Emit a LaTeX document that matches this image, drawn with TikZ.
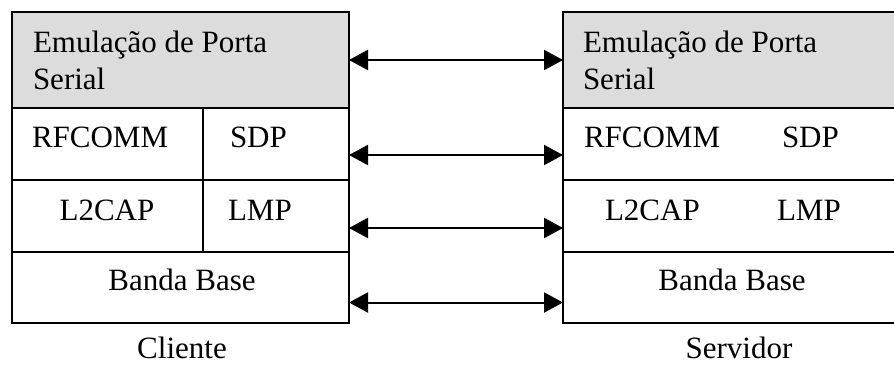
\documentclass[tikz,border=0pt]{standalone}
\usepackage{fontspec}
\setmainfont{Liberation Serif}
\usetikzlibrary{arrows.meta}
\definecolor{hdrgrey}{HTML}{DCDCDC}
\tikzset{
  cell/.style={draw=black, line width=2pt, rectangle, inner sep=0pt, outer sep=0pt, anchor=north west, fill=white},
  hdr/.style={cell, fill=hdrgrey},
  lbl/.style={inner sep=0pt, outer sep=0pt, font=\fontsize{31}{36}\selectfont},
  link/.style={line width=2pt, {Triangle[length=19pt,width=20pt]}-{Triangle[length=19pt,width=20pt]}}
}
\begin{document}
\begin{tikzpicture}[x=1pt,y=-1pt]
\useasboundingbox (0,0) rectangle (894,365);
% left stack
\node[hdr, minimum width=337pt, minimum height=96pt] (lA) at (12,12) {};
\node[cell, minimum width=191pt, minimum height=72pt] (lB1) at (12,108) {};
\node[cell, minimum width=146pt, minimum height=72pt] (lB2) at (203,108) {};
\node[cell, minimum width=191pt, minimum height=72pt] (lC1) at (12,180) {};
\node[cell, minimum width=146pt, minimum height=72pt] (lC2) at (203,180) {};
\node[cell, minimum width=337pt, minimum height=71pt] (lD) at (12,252) {};
% right stack
\node[hdr, minimum width=333pt, minimum height=96pt] (rA) at (563,12) {};
\node[cell, minimum width=333pt, minimum height=72pt] (rB) at (563,108) {};
\node[cell, minimum width=333pt, minimum height=72pt] (rC) at (563,180) {};
\node[cell, minimum width=333pt, minimum height=71pt] (rD) at (563,252) {};
% left labels
\node[lbl, anchor=base west] (lt1) at (33,52) {Emulação de Porta};
\node[lbl, anchor=base west] (lt2) at (33,89) {Serial};
\node[lbl, anchor=base west] (lrf) at (32,147) {RFCOMM};
\node[lbl, anchor=base west] (lsdp) at (230,147) {SDP};
\node[lbl, anchor=base] (ll2) at (107,220) {L2CAP};
\node[lbl, anchor=base west] (llmp) at (228,220) {LMP};
\node[lbl, anchor=base] (lbb) at (182,290) {Banda Base};
% right labels
\node[lbl, anchor=base west] (rt1) at (583,52) {Emulação de Porta};
\node[lbl, anchor=base west] (rt2) at (583,89) {Serial};
\node[lbl, anchor=base west] (rrf) at (584,147) {RFCOMM};
\node[lbl, anchor=base west] (rsdp) at (782,147) {SDP};
\node[lbl, anchor=base west] (rl2) at (605,220) {L2CAP};
\node[lbl, anchor=base west] (rlmp) at (777,220) {LMP};
\node[lbl, anchor=base] (rbb) at (732,290) {Banda Base};
% captions
\node[lbl, anchor=base] (cli) at (182,358) {Cliente};
\node[lbl, anchor=base] (srv) at (739,358) {Servidor};
% links
\draw[link] (lA.east) -- (rA.west);
\draw[link] ([yshift=-11pt]lB2.east) -- ([yshift=-11pt]rB.west);
\draw[link] ([yshift=-12pt]lC2.east) -- ([yshift=-12pt]rC.west);
\draw[link] ([yshift=-15pt]lD.east) -- ([yshift=-15pt]rD.west);
\end{tikzpicture}
\end{document}
